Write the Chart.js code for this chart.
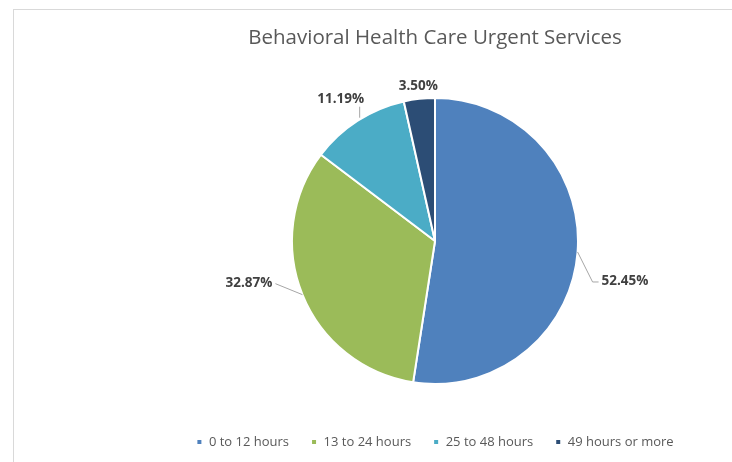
<!DOCTYPE html>
<html>
<head>
<meta charset="utf-8">
<script src="https://cdn.jsdelivr.net/npm/chart.js@4"></script>
<style>
  html, body { margin: 0; padding: 0; background: #fff; overflow: hidden; width: 732px; height: 462px; }
  #frame { position: absolute; left: 13px; top: 9px; width: 800px; height: 480px; border: 1px solid #d9d9d9; }
  #chart { position: absolute; left: 138px; top: 0; }
</style>
</head>
<body>
<div id="frame"></div>
<canvas id="chart" width="594" height="480"></canvas>
<script>
const categories = ['0 to 12 hours', '13 to 24 hours', '25 to 48 hours', '49 hours or more'];
const shares = [52.45, 32.87, 11.19, 3.50];
const sliceColors = ['#4F81BD', '#9BBB59', '#4BACC6', '#2C4D75'];

const FONT = '"Open Sans", "DejaVu Sans", sans-serif';

// where each outside label sits, relative to the slice's edge point
const calloutPlacement = [
  { line: [[15, 30], [21, 30]], text: [24, 29], align: 'left' },
  { line: [[-27, -11]], text: [-30, -12], align: 'right' },
  { line: [[2, -3], [2, -14]], text: [-17, -22], align: 'center', noEdge: true },
  { line: [], text: [-1, -13], align: 'center' }
];

const callouts = {
  id: 'callouts',
  afterDatasetsDraw(chart) {
    const ctx = chart.ctx;
    const arcs = chart.getDatasetMeta(0).data;
    ctx.save();
    ctx.font = 'bold 13.5px ' + FONT;
    ctx.fillStyle = '#404040';
    ctx.strokeStyle = '#a6a6a6';
    ctx.lineWidth = 1;
    ctx.textBaseline = 'middle';
    arcs.forEach((arc, i) => {
      const mid = (arc.startAngle + arc.endAngle) / 2;
      const ex = arc.x + Math.cos(mid) * arc.outerRadius;
      const ey = arc.y + Math.sin(mid) * arc.outerRadius;
      const p = calloutPlacement[i];
      if (p.line.length) {
        ctx.beginPath();
        if (p.noEdge) {
          ctx.moveTo(ex + p.line[0][0], ey + p.line[0][1]);
          p.line.slice(1).forEach(pt => ctx.lineTo(ex + pt[0], ey + pt[1]));
        } else {
          ctx.moveTo(ex, ey);
          p.line.forEach(pt => ctx.lineTo(ex + pt[0], ey + pt[1]));
        }
        ctx.stroke();
      }
      ctx.textAlign = p.align;
      ctx.fillText(shares[i].toFixed(2) + '%', ex + p.text[0], ey + p.text[1]);
    });
    ctx.restore();
  }
};

new Chart(document.getElementById('chart'), {
  type: 'pie',
  data: {
    labels: categories,
    datasets: [{
      data: shares,
      backgroundColor: sliceColors,
      borderColor: '#ffffff',
      borderWidth: 2,
      radius: 143
    }]
  },
  options: {
    responsive: false,
    animation: false,
    layout: { padding: { left: 0, right: 0, top: 16, bottom: 21.5 } },
    plugins: {
      tooltip: { enabled: false },
      title: {
        display: true,
        text: 'Behavioral Health Care Urgent Services',
        color: '#595959',
        font: { family: FONT, size: 20.5, weight: 'normal' },
        padding: { top: 10, bottom: 17.9 }
      },
      legend: {
        position: 'bottom',
        labels: {
          color: '#595959',
          boxWidth: 6,
          boxHeight: 6,
          padding: 22,
          font: { family: FONT, size: 13 }
        }
      }
    }
  },
  plugins: [callouts]
});
</script>
</body>
</html>
